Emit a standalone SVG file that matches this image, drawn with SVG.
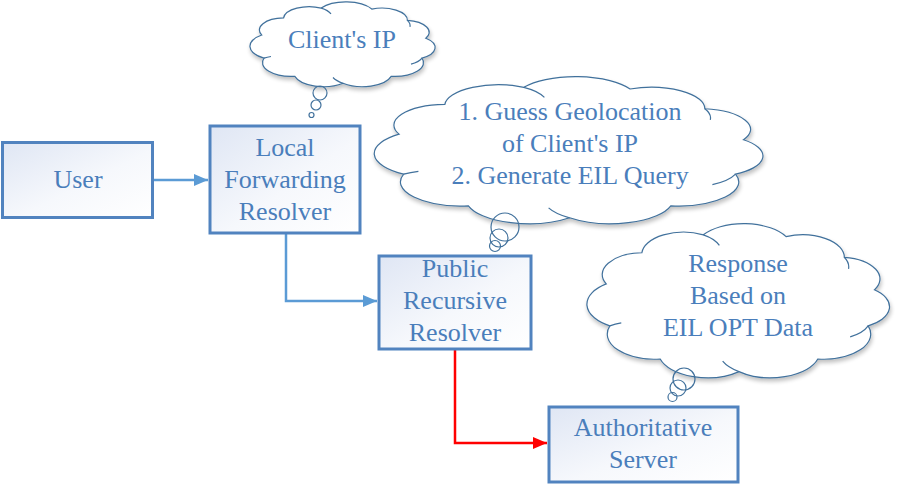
<svg xmlns="http://www.w3.org/2000/svg" width="898" height="487" viewBox="0 0 898 487">
<defs>
<linearGradient id="boxfill" x1="0" y1="0" x2="1" y2="1">
<stop offset="0" stop-color="#dfe6f4"/>
<stop offset="0.55" stop-color="#f6f8fc"/>
<stop offset="1" stop-color="#ffffff"/>
</linearGradient>
<filter id="shadow" x="-10%" y="-10%" width="125%" height="130%">
<feGaussianBlur in="SourceAlpha" stdDeviation="2"/>
<feOffset dx="1" dy="3" result="b"/>
<feComponentTransfer><feFuncA type="linear" slope="0.25"/></feComponentTransfer>
<feMerge><feMergeNode/><feMergeNode in="SourceGraphic"/></feMerge>
</filter>
<marker id="arrBlue" markerUnits="userSpaceOnUse" markerWidth="14" markerHeight="12" refX="14" refY="6" orient="auto">
<path d="M0,0 L14,6 L0,12 Z" fill="#5b9bd5"/>
</marker>
<marker id="arrRed" markerUnits="userSpaceOnUse" markerWidth="14" markerHeight="12" refX="14" refY="6" orient="auto">
<path d="M0,0 L14,6 L0,12 Z" fill="#ff0000"/>
</marker>
<path id="cloudShape" vector-effect="non-scaling-stroke" d="M10.5,63.7 A14.5,14.5 0 0 1 9.4,39.6 A12.5,12.5 0 0 1 20.3,21.7 A12.8,12.8 0 0 1 39.1,11.4 A15,15 0 0 1 64.4,12.4 A12.8,12.8 0 0 1 82.2,24.3 A12.5,12.5 0 0 1 91.4,43 A12.5,12.5 0 0 1 89.5,63.7 A14.5,14.5 0 0 1 74.1,82.8 A15,15 0 0 1 50,90 A15,15 0 0 1 25.9,82.8 A14.5,14.5 0 0 1 10.5,63.7 Z"/>
<path id="cloudInner" vector-effect="non-scaling-stroke" d="M39.1,11.4 A12,12 0 0 1 44,17.5 M82.2,24.3 A12,12 0 0 1 83.5,31 M89.5,63.7 A12,12 0 0 1 84,70 M50,90 A14,14 0 0 1 45,84 M10.5,63.7 A12,12 0 0 1 14,62"/>
</defs>
<style>
.box{fill:url(#boxfill);stroke:#5183bf;stroke-width:3}
.cloud{fill:#ffffff;stroke:#41719c;stroke-width:1.2}
.inner{fill:none;stroke:#41719c;stroke-width:1.2}
.bub{fill:none;stroke:#41719c;stroke-width:1.2}
.conn{fill:none;stroke-width:2.5}
text{font-family:'Liberation Serif','DejaVu Serif','Noto Serif','Times New Roman',Times,serif;font-size:26px;fill:#4a7ebb;text-anchor:middle}
</style>

<g id="cloud-clientip">
<g filter="url(#shadow)">
<use href="#cloudShape" class="cloud" transform="translate(243,-2.8) scale(2,0.956)"/>
</g>
<use href="#cloudInner" class="inner" transform="translate(243,-2.8) scale(2,0.956)"/>
<circle class="bub" cx="320" cy="93" r="7"/>
<circle class="bub" cx="316" cy="105" r="5"/>
<circle class="bub" cx="311.5" cy="115" r="2.5"/>
</g>

<g id="cloud-guess">
<g filter="url(#shadow)">
<use href="#cloudShape" class="cloud" transform="translate(359.6,68.4) scale(4.2,1.66)"/>
</g>
<use href="#cloudInner" class="inner" transform="translate(359.6,68.4) scale(4.2,1.66)"/>
<circle class="bub" cx="505" cy="227" r="14"/>
<circle class="bub" cx="499" cy="238" r="9"/>
<circle class="bub" cx="495" cy="246" r="5.5"/>
</g>

<g id="cloud-response">
<g filter="url(#shadow)">
<use href="#cloudShape" class="cloud" transform="translate(575.5,215) scale(3.27,1.74)"/>
</g>
<use href="#cloudInner" class="inner" transform="translate(575.5,215) scale(3.27,1.74)"/>
<circle class="bub" cx="684" cy="379" r="11"/>
<circle class="bub" cx="678" cy="388" r="8"/>
<circle class="bub" cx="672.5" cy="397" r="4.5"/>
</g>

<g id="connectors">
<path class="conn" stroke="#5b9bd5" d="M153,180 H208" marker-end="url(#arrBlue)"/>
<path class="conn" stroke="#5b9bd5" d="M286,234 V301 H377" marker-end="url(#arrBlue)"/>
<path class="conn" stroke="#ff0000" d="M455,350 V443 H547" marker-end="url(#arrRed)"/>
</g>

<g id="node-user">
<rect class="box" x="2.5" y="142.5" width="150" height="75"/>
</g>
<g id="node-lfr">
<rect class="box" x="210" y="126" width="150" height="107"/>
</g>
<g id="node-prr">
<rect class="box" x="379" y="256" width="152" height="93"/>
</g>
<g id="node-auth">
<rect class="box" x="549" y="407" width="189" height="75"/>
</g>

<g id="labels">
<text x="342" y="48">Client's IP</text>
<text x="570" y="120">1. Guess Geolocation</text>
<text x="570" y="152">of Client's IP</text>
<text x="570" y="184">2. Generate EIL Query</text>
<text x="738" y="272">Response</text>
<text x="738" y="304">Based on</text>
<text x="738" y="336">EIL OPT Data</text>
<text x="78" y="188">User</text>
<text x="285" y="156">Local</text>
<text x="285" y="188">Forwarding</text>
<text x="285" y="220">Resolver</text>
<text x="455" y="277">Public</text>
<text x="455" y="309">Recursive</text>
<text x="455" y="341">Resolver</text>
<text x="643" y="436">Authoritative</text>
<text x="643" y="468">Server</text>
</g>
</svg>
